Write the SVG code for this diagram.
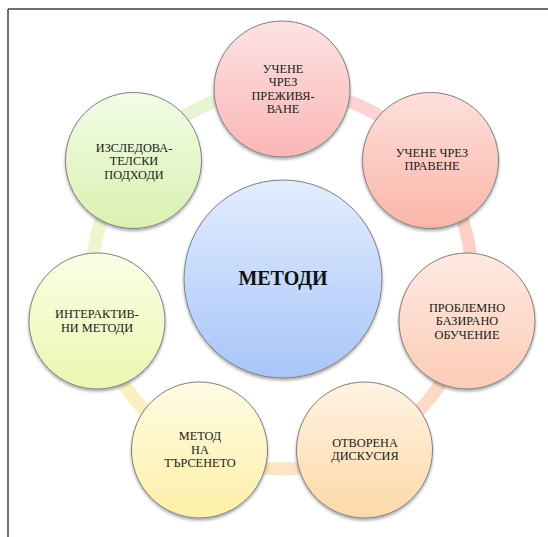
<svg xmlns="http://www.w3.org/2000/svg" width="548" height="537" viewBox="0 0 548 537">
<style>
.node circle{stroke:#7f7f7f;stroke-width:1;filter:url(#sh)}
.lbl{font-size:12.3px;fill:#1a1a1a;text-anchor:middle}
.ctr{font-size:20px;font-weight:bold;fill:#111;text-anchor:middle}
.seg{fill:none;stroke-width:13}
</style>
<defs>
<filter id="sh" x="-20%" y="-20%" width="140%" height="150%">
<feDropShadow dx="0" dy="2" stdDeviation="1.5" flood-color="#000" flood-opacity="0.35"/>
</filter>
<linearGradient id="g1" x1="0" y1="0" x2="0" y2="1"><stop offset="0" stop-color="#fde2e2"/><stop offset="1" stop-color="#fbb6b6"/></linearGradient>
<linearGradient id="g2" x1="0" y1="0" x2="0" y2="1"><stop offset="0" stop-color="#fde0dc"/><stop offset="1" stop-color="#fbb5a8"/></linearGradient>
<linearGradient id="g3" x1="0" y1="0" x2="0" y2="1"><stop offset="0" stop-color="#feeae2"/><stop offset="1" stop-color="#fcccb6"/></linearGradient>
<linearGradient id="g4" x1="0" y1="0" x2="0" y2="1"><stop offset="0" stop-color="#fff3e2"/><stop offset="1" stop-color="#fdd9a8"/></linearGradient>
<linearGradient id="g5" x1="0" y1="0" x2="0" y2="1"><stop offset="0" stop-color="#fffbe6"/><stop offset="1" stop-color="#fdf0a6"/></linearGradient>
<linearGradient id="g6" x1="0" y1="0" x2="0" y2="1"><stop offset="0" stop-color="#fbfee6"/><stop offset="1" stop-color="#ecf6b0"/></linearGradient>
<linearGradient id="g7" x1="0" y1="0" x2="0" y2="1"><stop offset="0" stop-color="#f3fce8"/><stop offset="1" stop-color="#d9f1b0"/></linearGradient>
<linearGradient id="gc" x1="0" y1="0" x2="0" y2="1"><stop offset="0" stop-color="#e3edfd"/><stop offset="1" stop-color="#a8c5fa"/></linearGradient>
</defs>
<g id="frame" stroke="#404040" stroke-width="1.5" fill="none">
<line x1="8" y1="9" x2="548" y2="9"/>
<line x1="8" y1="9" x2="8" y2="537"/>
</g>
<g id="connectors">
<path class="seg" stroke="#fcd3d3" d="M282 89 A190 190 0 0 1 430.55 160.54"/>
<path class="seg" stroke="#fdd0c6" d="M430.55 160.54 A190 190 0 0 1 467.24 321.28"/>
<path class="seg" stroke="#fddac8" d="M467.24 321.28 A190 190 0 0 1 364.44 450.18"/>
<path class="seg" stroke="#fee3c4" d="M364.44 450.18 A190 190 0 0 1 199.56 450.18"/>
<path class="seg" stroke="#f9f0c4" d="M199.56 450.18 A190 190 0 0 1 96.76 321.28"/>
<path class="seg" stroke="#eef5cc" d="M96.76 321.28 A190 190 0 0 1 133.45 160.54"/>
<path class="seg" stroke="#e5f5d3" d="M133.45 160.54 A190 190 0 0 1 282 89"/>
</g>
<g id="nodes" font-family="'Liberation Serif', 'DejaVu Serif', serif">
<g id="center" class="node">
<circle cx="283" cy="279" r="99" fill="url(#gc)"/>
<text class="ctr" x="283" y="285">МЕТОДИ</text>
</g>
<g id="n1" class="node">
<circle cx="282" cy="89" r="68" fill="url(#g1)"/>
<text class="lbl" x="283" y="72.5">УЧЕНЕ</text>
<text class="lbl" x="283" y="86">ЧРЕЗ</text>
<text class="lbl" x="283" y="99.5">ПРЕЖИВЯ-</text>
<text class="lbl" x="283" y="113">ВАНЕ</text>
</g>
<g id="n2" class="node">
<circle cx="430.5" cy="160.5" r="68" fill="url(#g2)"/>
<text class="lbl" x="432" y="156.5">УЧЕНЕ ЧРЕЗ</text>
<text class="lbl" x="432" y="170">ПРАВЕНЕ</text>
</g>
<g id="n3" class="node">
<circle cx="467" cy="321" r="68" fill="url(#g3)"/>
<text class="lbl" x="467" y="311.5">ПРОБЛЕМНО</text>
<text class="lbl" x="467" y="325">БАЗИРАНО</text>
<text class="lbl" x="467" y="338.5">ОБУЧЕНИЕ</text>
</g>
<g id="n4" class="node">
<circle cx="364.5" cy="450" r="68" fill="url(#g4)"/>
<text class="lbl" x="365" y="446.5">ОТВОРЕНА</text>
<text class="lbl" x="365" y="460">ДИСКУСИЯ</text>
</g>
<g id="n5" class="node">
<circle cx="199.5" cy="450" r="68" fill="url(#g5)"/>
<text class="lbl" x="200" y="440">МЕТОД</text>
<text class="lbl" x="200" y="453.5">НА</text>
<text class="lbl" x="200" y="467">ТЪРСЕНЕТО</text>
</g>
<g id="n6" class="node">
<circle cx="97" cy="321" r="68" fill="url(#g6)"/>
<text class="lbl" x="97" y="318">ИНТЕРАКТИВ-</text>
<text class="lbl" x="97" y="331.5">НИ МЕТОДИ</text>
</g>
<g id="n7" class="node">
<circle cx="133.5" cy="160.5" r="68" fill="url(#g7)"/>
<text class="lbl" x="134" y="151.5">ИЗСЛЕДОВА-</text>
<text class="lbl" x="134" y="165">ТЕЛСКИ</text>
<text class="lbl" x="134" y="178.5">ПОДХОДИ</text>
</g>
</g>
</svg>
